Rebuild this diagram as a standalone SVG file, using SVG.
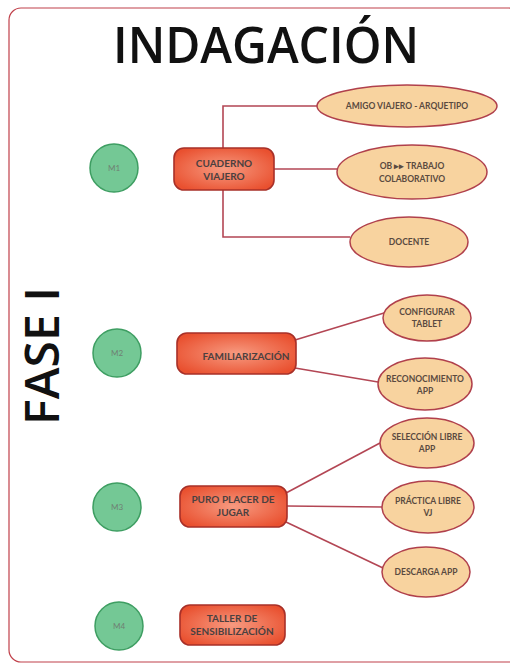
<svg xmlns="http://www.w3.org/2000/svg" width="510" height="664" viewBox="0 0 510 664">
<defs>
<radialGradient id="boxg" cx="50%" cy="50%" r="60%">
<stop offset="0" stop-color="#f79a80"/>
<stop offset="1" stop-color="#e9502f"/>
</radialGradient>
<style>
.frame{fill:#ffffff;stroke:#c0404a;stroke-width:1.2}
.title{font-family:"Open Sans","Liberation Sans",sans-serif;font-weight:600;fill:#111}
.circ{fill:#74c895;stroke:#3e9e62;stroke-width:1.5}
.ctext{font-family:Lato,"Liberation Sans",sans-serif;font-size:8px;fill:#6f7f73;text-anchor:middle}
.box{fill:url(#boxg);stroke:#a83028;stroke-width:1.6}
.btext{font-family:Lato,"Liberation Sans",sans-serif;font-weight:700;font-size:10px;fill:#4a4040;text-anchor:middle}
.ell{fill:#f8d39f;stroke:#b0404c;stroke-width:1.5}
.etext{font-family:Lato,"Liberation Sans",sans-serif;font-weight:700;font-size:8.5px;fill:#5a4a40;text-anchor:middle}
.conn{fill:none;stroke:#b34654;stroke-width:1.6}
</style>
</defs>
<rect class="frame" x="9" y="8" width="512" height="654" rx="12"/>
<text class="title" x="266" y="63" font-size="50" text-anchor="middle" textLength="306" lengthAdjust="spacingAndGlyphs">INDAGACIÓN</text>
<text class="title" transform="translate(59,356) rotate(-90)" x="0" y="0" font-size="47" text-anchor="middle" textLength="138" lengthAdjust="spacingAndGlyphs">FASE I</text>

<g id="connectors">
<polyline class="conn" points="223,148 223,106 317,106"/>
<line class="conn" x1="274" y1="169" x2="337" y2="169"/>
<polyline class="conn" points="223,190 223,237 350,237"/>
<line class="conn" x1="295" y1="340" x2="384" y2="313"/>
<line class="conn" x1="295" y1="368" x2="378" y2="382"/>
<line class="conn" x1="286" y1="493" x2="380" y2="443"/>
<line class="conn" x1="287" y1="506" x2="382" y2="507"/>
<line class="conn" x1="286" y1="522" x2="383" y2="568"/>
</g>

<g id="m1"><circle class="circ" cx="114" cy="168" r="24"/><text class="ctext" x="114" y="171">M1</text></g>
<g id="m2"><circle class="circ" cx="117" cy="353" r="24"/><text class="ctext" x="117" y="356">M2</text></g>
<g id="m3"><circle class="circ" cx="117" cy="507" r="24"/><text class="ctext" x="117" y="510">M3</text></g>
<g id="m4"><circle class="circ" cx="119" cy="626" r="24"/><text class="ctext" x="119" y="629">M4</text></g>

<g id="cuaderno"><rect class="box" x="174" y="148" width="100" height="42" rx="10"/><text class="btext" x="224" y="167" font-weight="400">CUADERNO</text><text class="btext" x="224" y="180" font-weight="400">VIAJERO</text></g>
<g id="familiarizacion"><rect class="box" x="177" y="333" width="119" height="41" rx="10"/><text class="btext" x="246" y="360">FAMILIARIZACIÓN</text></g>
<g id="puro"><rect class="box" x="180" y="486" width="107" height="41" rx="10"/><text class="btext" x="233" y="503">PURO PLACER DE</text><text class="btext" x="233" y="516">JUGAR</text></g>
<g id="taller"><rect class="box" x="180" y="605" width="105" height="40" rx="10"/><text class="btext" x="232" y="622">TALLER DE</text><text class="btext" x="232" y="635">SENSIBILIZACIÓN</text></g>

<g id="amigo"><ellipse class="ell" cx="407" cy="106" rx="90" ry="21"/><text class="etext" x="407" y="109" font-weight="400">AMIGO VIAJERO - ARQUETIPO</text></g>
<g id="ob"><ellipse class="ell" cx="412" cy="172" rx="75" ry="27"/><text class="etext" x="412" y="169" font-weight="400">OB ▸▸ TRABAJO</text><text class="etext" x="412" y="182" font-weight="400">COLABORATIVO</text></g>
<g id="docente"><ellipse class="ell" cx="409" cy="242" rx="59" ry="25"/><text class="etext" x="409" y="245" font-weight="400">DOCENTE</text></g>
<g id="configurar"><ellipse class="ell" cx="427" cy="318" rx="44" ry="23"/><text class="etext" x="427" y="315">CONFIGURAR</text><text class="etext" x="427" y="327">TABLET</text></g>
<g id="reconocimiento"><ellipse class="ell" cx="425" cy="384" rx="47" ry="26"/><text class="etext" x="425" y="382">RECONOCIMIENTO</text><text class="etext" x="425" y="394">APP</text></g>
<g id="seleccion"><ellipse class="ell" cx="427" cy="443" rx="47" ry="25"/><text class="etext" x="427" y="440">SELECCIÓN LIBRE</text><text class="etext" x="427" y="452">APP</text></g>
<g id="practica"><ellipse class="ell" cx="428" cy="507" rx="46" ry="26"/><text class="etext" x="428" y="504">PRÁCTICA LIBRE</text><text class="etext" x="428" y="516">VJ</text></g>
<g id="descarga"><ellipse class="ell" cx="426" cy="572" rx="44" ry="25"/><text class="etext" x="426" y="575">DESCARGA APP</text></g>
</svg>
